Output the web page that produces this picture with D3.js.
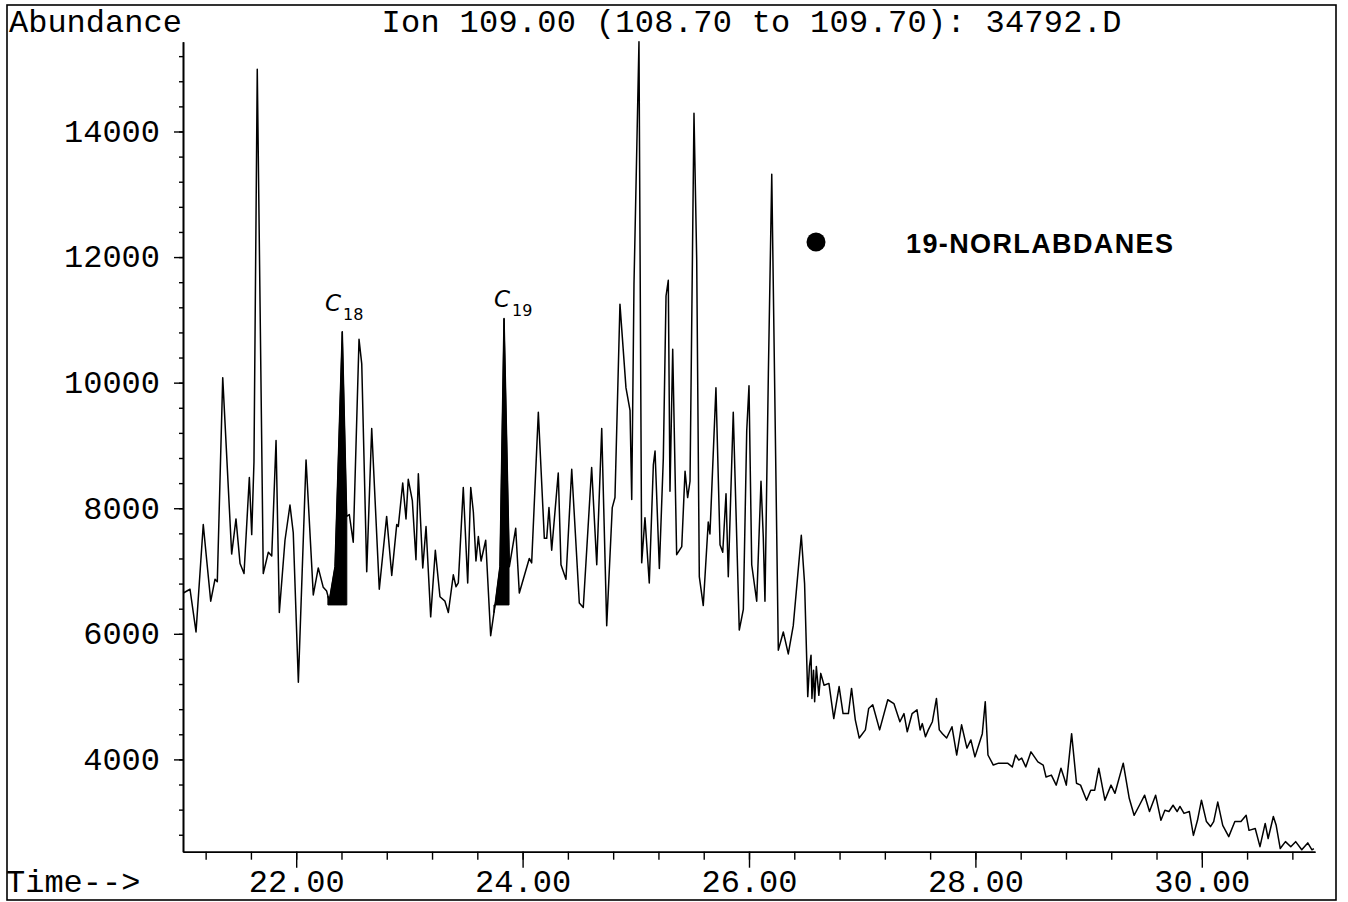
<!DOCTYPE html>
<html><head><meta charset="utf-8">
<script src="https://cdn.jsdelivr.net/npm/d3@7"></script>
<style>html,body{margin:0;padding:0;background:#fff;} svg{display:block}</style>
</head><body>
<svg id="chart" width="1348" height="902"></svg>
<script>
// ---- data ----
const times = [
21.003,21.062,21.115,21.179,21.209,21.245,21.283,21.303,21.351,21.430,21.468,21.504,21.539,21.586,21.607,21.627,21.656,21.709,21.754,21.784,
21.822,21.851,21.901,21.945,21.974,22.019,22.087,22.151,22.195,22.239,22.269,22.292,22.343,22.407,22.446,22.469,22.504,22.555,22.579,22.623,
22.667,22.734,22.799,22.844,22.888,22.902,22.941,22.970,22.990,23.026,23.058,23.079,23.118,23.147,23.188,23.229,23.270,23.314,23.344,
23.388,23.412,23.432,23.476,23.515,23.542,23.565,23.588,23.609,23.633,23.674,23.718,23.756,23.800,23.836,23.883,23.939,23.971,24.059,24.080,
24.139,24.192,24.213,24.233,24.257,24.315,24.339,24.383,24.434,24.501,24.536,24.610,24.655,24.699,24.743,24.792,24.816,24.860,24.913,24.949,
24.964,24.984,25.028,25.052,25.081,25.119,25.155,25.170,25.208,25.243,25.267,25.287,25.302,25.326,25.361,25.406,25.435,25.458,25.479,25.514,
25.538,25.561,25.596,25.640,25.655,25.708,25.744,25.768,25.797,25.817,25.861,25.914,25.950,25.980,26.000,26.024,26.068,26.106,26.126,26.141,
26.171,26.201,26.259,26.303,26.347,26.391,26.462,26.491,26.519,26.534,26.548,26.556,26.570,26.580,26.595,26.617,26.634,26.663,26.706,26.749,
26.796,26.831,26.878,26.906,26.939,26.974,27.028,27.057,27.093,27.154,27.226,27.280,27.333,27.369,27.398,27.441,27.484,27.512,27.531,27.559,
27.584,27.620,27.656,27.681,27.709,27.746,27.793,27.835,27.878,27.925,27.960,27.996,28.061,28.087,28.111,28.158,28.205,28.284,28.326,28.355,
28.383,28.409,28.445,28.491,28.552,28.599,28.624,28.671,28.714,28.756,28.785,28.803,28.850,28.893,28.929,28.982,29.019,29.054,29.090,29.144,
29.198,29.233,29.306,29.359,29.402,29.449,29.495,29.538,29.592,29.639,29.674,29.710,29.746,29.782,29.807,29.843,29.890,29.926,29.962,29.997,
30.041,30.077,30.105,30.141,30.185,30.238,30.292,30.346,30.392,30.417,30.472,30.514,30.560,30.586,30.632,30.657,30.693,30.739,30.786,30.829,
30.883,30.936,30.973,30.990
];
const abundance = [
6650,6710,6030,7740,7180,6520,6870,6830,10080,7270,7830,7120,6960,8490,7580,8740,14990,6960,7300,7240,
9080,6340,7490,8050,7610,5230,8770,6620,7050,6740,6680,6520,7070,10810,7870,7900,7460,10690,10300,6990,
9270,6710,7870,6930,7740,7710,8400,7830,8460,8120,7180,8550,7050,7710,6270,7330,6590,6520,6340,
6940,6750,6810,8330,6810,8330,7940,7160,7550,7160,7490,5970,6450,7070,11020,7070,7680,6650,7200,7130,
9530,7520,7520,8010,7330,8560,7100,6870,8620,6490,6420,8650,7100,9270,6130,8010,8170,11250,9920,9560,
8140,11570,15430,7130,7850,6810,8690,8910,7040,8790,11380,11630,8270,10530,7260,7390,8590,8170,8430,14290,
11960,6910,6450,7780,7590,9920,7420,7300,8230,6910,9530,6060,6390,9240,9950,7100,6520,8430,7550,6520,
10140,13320,5740,6030,5680,6130,7570,6800,5000,5480,5660,4970,5420,4920,5480,5020,5370,5180,5210,4650,
5160,4730,4730,5130,4630,4340,4470,4810,4870,4470,4950,4890,4600,4730,4440,4730,4790,4470,4570,4360,
4470,4600,4970,4470,4410,4340,4520,4070,4550,4180,4310,4040,4410,4920,4070,3910,3940,3940,3880,4070,
3990,4020,3880,4120,3960,3910,3720,3750,3590,3860,3700,3590,4410,3620,3590,3350,3510,3510,3860,3350,
3590,3460,3940,3380,3110,3270,3430,3170,3430,3030,3190,3170,3270,3170,3250,3140,3170,2790,3030,3350,
3010,2930,3010,3320,2950,2770,3010,3010,3110,2870,2900,2610,2980,2740,3090,2950,2580,2690,2610,2690,
2560,2670,2560,2580
];
const xMajorTicks = [22, 24, 26, 28, 30];
const xTickLabels = ["22.00", "24.00", "26.00", "28.00", "30.00"];
const yMajorTicks = [4000, 6000, 8000, 10000, 12000, 14000];
const yTickLabels = ["4000", "6000", "8000", "10000", "12000", "14000"];
const peakNames = ["18", "19"];
const peakStart = [22.280, 23.747];
const peakEnd = [22.447, 23.880];
const peakBaseline = 6460;
const legendMarker = [26.592, 12240];
const legendLabel = "19-NORLABDANES";
const titleText = "Ion 109.00 (108.70 to 109.70): 34792.D";
const yTitle = "Abundance";
const xTitle = "Time-->";

// ---- layout ----
const svg = d3.select("#chart");
const x = d3.scaleLinear().domain([21.0, 31.0]).range([183, 1315]);
const y = d3.scaleLinear().domain([2530, 15430]).range([851.7, 41.7]);
const mono = "'Liberation Mono','Courier New',monospace";

// outer frame
svg.append("rect").attr("x", 7).attr("y", 5).attr("width", 1329).attr("height", 895)
  .attr("fill", "none").attr("stroke", "#000").attr("stroke-width", 1.6);

// minor ticks
const yMinor = d3.range(2800, 15201, 400);
const xMinor = d3.range(0, 25).map(i => +(21.2 + 0.4 * i).toFixed(1));

const yAxisMinor = d3.axisLeft(y).tickValues(yMinor).tickSize(4).tickSizeOuter(0).tickFormat("");
const yAxisMajor = d3.axisLeft(y).tickValues(yMajorTicks).tickSize(9).tickSizeOuter(0)
  .tickFormat((d, i) => yTickLabels[i]);
const xAxisMinor = d3.axisBottom(x).tickValues(xMinor).tickSize(8).tickSizeOuter(0).tickFormat("");
const xAxisMajor = d3.axisBottom(x).tickValues(xMajorTicks).tickSize(16).tickSizeOuter(0)
  .tickFormat((d, i) => xTickLabels[i]);

function styleAxis(g) {
  g.selectAll("path.domain").attr("stroke", "#000").attr("stroke-width", 1.6);
  g.selectAll(".tick line").attr("stroke", "#000").attr("stroke-width", 1.4);
}

const gy = svg.append("g").attr("transform", "translate(183,0)");
gy.call(yAxisMinor).call(styleAxis);
const gy2 = svg.append("g").attr("transform", "translate(183,0)");
gy2.call(yAxisMajor).call(styleAxis);
gy2.selectAll(".tick text").attr("x", -23).attr("dy", "0.31em")
  .attr("font-family", mono).attr("font-size", 32).attr("fill", "#000").attr("text-anchor", "end");

const gx = svg.append("g").attr("transform", "translate(0,851.7)");
gx.call(xAxisMinor).call(styleAxis);
const gx2 = svg.append("g").attr("transform", "translate(0,851.7)");
gx2.call(xAxisMajor).call(styleAxis);
gx2.selectAll(".tick text").attr("y", 40).attr("dy", 0)
  .attr("font-family", mono).attr("font-size", 32).attr("fill", "#000").attr("text-anchor", "middle");

// titles
svg.append("text").attr("x", 9).attr("y", 31.5).attr("font-family", mono).attr("font-size", 32)
  .attr("fill", "#000").text(yTitle);
svg.append("text").attr("x", 751.5).attr("y", 31.5).attr("font-family", mono).attr("font-size", 32)
  .attr("text-anchor", "middle").attr("fill", "#000").attr("textLength", 740).attr("lengthAdjust", "spacing")
  .text(titleText);
svg.append("text").attr("x", 6).attr("y", 891.7).attr("font-family", mono).attr("font-size", 32)
  .attr("fill", "#000").text(xTitle);

// data
const series = times.map((t, i) => ({t: t, v: abundance[i]}));
function valueAt(t) {
  const i = d3.bisector(d => d.t).right(series, t);
  const a = series[Math.max(0, i - 1)], b = series[Math.min(series.length - 1, i)];
  if (b.t === a.t) return a.v;
  return a.v + (b.v - a.v) * (t - a.t) / (b.t - a.t);
}

// shaded peaks
const area = d3.area().x(d => x(d.t)).y0(y(peakBaseline)).y1(d => y(d.v));
peakStart.forEach((s, k) => {
  const e = peakEnd[k];
  const pts = [{t: s, v: valueAt(s)}]
    .concat(series.filter(d => d.t > s && d.t < e))
    .concat([{t: e, v: valueAt(e)}]);
  svg.append("path").datum(pts).attr("d", area).attr("fill", "#000").attr("stroke", "#000").attr("stroke-width", 1);
});

// line
const line = d3.line().x(d => x(d.t)).y(d => y(d.v));
svg.append("path").datum(series).attr("d", line).attr("fill", "none")
  .attr("stroke", "#000").attr("stroke-width", 1.5).attr("stroke-linejoin", "round");

// peak annotations (handwritten style)
const annX = [325, 494];
const annY = [311, 307];
peakNames.forEach((n, k) => {
  const t = svg.append("text").attr("x", annX[k]).attr("y", annY[k])
    .attr("font-family", "'DejaVu Sans', sans-serif").attr("font-size", 23).attr("fill", "#000");
  t.append("tspan").text("C").attr("font-style", "italic");
  t.append("tspan").attr("dy", 9).attr("dx", 2).attr("font-size", 16).text(n);
});

// legend
svg.append("circle").attr("cx", x(legendMarker[0])).attr("cy", y(legendMarker[1])).attr("r", 9.5).attr("fill", "#000");
svg.append("text").attr("x", 906).attr("y", 253.3).attr("font-family", "'Liberation Sans', Arial, sans-serif")
  .attr("font-size", 27).attr("font-weight", "bold").attr("fill", "#000")
  .attr("textLength", 267).attr("lengthAdjust", "spacing").text(legendLabel);
</script>
</body></html>
